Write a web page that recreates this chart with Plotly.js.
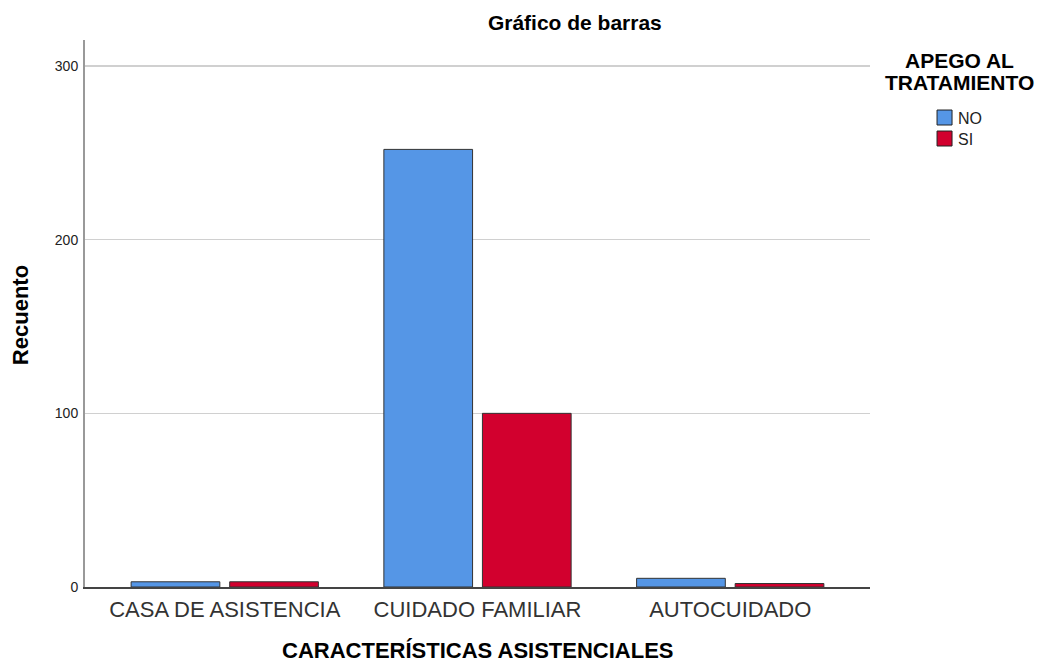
<!DOCTYPE html>
<html><head><meta charset="utf-8">
<script src="https://cdn.plot.ly/plotly-3.0.1.min.js"></script>
<style>body{margin:0;background:#fff}</style>
</head><body>
<div id="chart" style="width:1044px;height:666px"></div>
<script>
const categories = ["CASA DE ASISTENCIA", "CUIDADO FAMILIAR", "AUTOCUIDADO"];
const seriesNames = ["NO", "SI"];
const valuesNO = [3, 252, 5];
const valuesSI = [3, 100, 2];
const colors = ["#5596E6", "#D2002E"];
const yTicks = [0, 100, 200, 300];

const font = "Liberation Sans, Arial, sans-serif";
const traces = [valuesNO, valuesSI].map((v, i) => ({
  type: "bar", x: categories, y: v, name: seriesNames[i],
  marker: {color: colors[i], line: {color: "#333333", width: 1}},
  showlegend: false
}));

// manual legend (swatches + labels) built from series names/colours
const legShapes = [], legAnn = [];
seriesNames.forEach((n, i) => {
  const top = 0.8720 - i * 0.0384;
  legShapes.push({type: "rect", xref: "paper", yref: "paper",
    x0: 1.0854, x1: 1.1045, y0: top - 0.0274, y1: top,
    fillcolor: colors[i], line: {color: "#222", width: 1}});
  legAnn.push({text: n, xref: "paper", yref: "paper", x: 1.1096, y: top - 0.0146,
    xanchor: "left", yanchor: "middle", showarrow: false,
    font: {size: 16, family: font, color: "#222"}});
});

const layout = {
  width: 1044, height: 666,
  margin: {l: 85, r: 174, t: 40, b: 79},
  paper_bgcolor: "#fff", plot_bgcolor: "#fff",
  barmode: "group", bargap: 0.22, bargroupgap: 0.1,
  font: {family: font, color: "#000"},
  title: {text: "<b>Gráfico de barras</b>", font: {size: 21, family: font, color: "#000"},
          x: 0.624, xref: "paper", xanchor: "center", y: 0.966, yanchor: "middle"},
  xaxis: {
    type: "category", range: [-0.553, 2.553],
    showline: true, linecolor: "#444", linewidth: 1.5,
    ticks: "", tickfont: {size: 22, color: "#333", family: font},
    showgrid: false, zeroline: false, ticklabelstandoff: 2
  },
  yaxis: {
    range: [0, 315], tickvals: yTicks,
    showline: true, linecolor: "#999", linewidth: 2,
    ticks: "", tickfont: {size: 14, color: "#222", family: font},
    showgrid: true, gridcolor: "#d0d0d0", gridwidth: 1.5,
    zeroline: false, ticklabelstandoff: 2
  },
  showlegend: false,
  shapes: legShapes,
  annotations: [
    {text: "<b>APEGO AL</b>", xref: "paper", yref: "paper", x: 1.1146, y: 0.9634,
     xanchor: "center", yanchor: "middle", showarrow: false,
     font: {size: 21, family: font, color: "#000"}},
    {text: "<b>TRATAMIENTO</b>", xref: "paper", yref: "paper", x: 1.1146, y: 0.9232,
     xanchor: "center", yanchor: "middle", showarrow: false,
     font: {size: 21, family: font, color: "#000"}},
    {text: "<b>CARACTERÍSTICAS ASISTENCIALES</b>", xref: "paper", yref: "paper",
     x: 0.5, y: -0.117, xanchor: "center", yanchor: "middle", showarrow: false,
     font: {size: 22, family: font, color: "#000"}},
    {text: "<b>Recuento</b>", xref: "paper", yref: "paper", textangle: -90,
     x: -0.0828, y: 0.497, xanchor: "center", yanchor: "middle", showarrow: false,
     font: {size: 22, family: font, color: "#000"}}
  ].concat(legAnn)
};
Plotly.newPlot("chart", traces, layout, {displayModeBar: false, staticPlot: true});
</script>
</body></html>
